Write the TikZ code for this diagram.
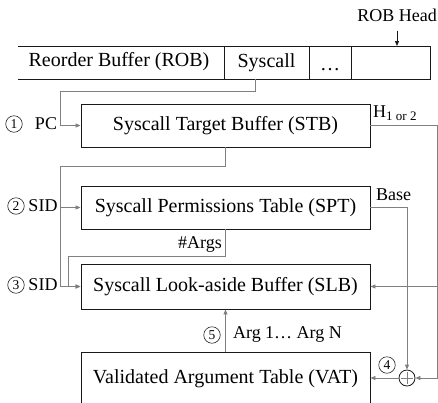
\documentclass[tikz,border=0pt]{standalone}
\usepackage{fontspec}
\setmainfont{Liberation Serif}
\usetikzlibrary{arrows.meta,calc}
\begin{document}
\begin{tikzpicture}[x=1pt,y=-1pt,
  box/.style={draw=black!90, line width=0.9pt, minimum width=289pt, inner sep=0pt, font=\fontsize{20}{24}\selectfont},
  cell/.style={inner sep=0pt, font=\fontsize{20}{24}\selectfont},
  conn/.style={draw=black!50, line width=0.8pt},
  arr/.style={conn, -{Stealth[length=5pt,width=4pt,inset=0pt]}},
  lbl/.style={font=\fontsize{18}{20}\selectfont, inner sep=0pt},
  num/.style={circle, draw=black!85, line width=0.6pt, inner sep=0pt, minimum size=16.5pt, font=\fontsize{13.5}{13.5}\selectfont}]
\useasboundingbox (0,0) rectangle (438,402);
% ROB
\draw[line width=0.9pt, draw=black!90] (18,46) -- (430,46) -- (430,79) -- (18,79);
\draw[line width=0.9pt, draw=black!90] (224,46) -- (224,79) (309,46) -- (309,79) (351,46) -- (351,79);
\node[cell] (rob) at (119,62) {Reorder Buffer (ROB)};
\node[cell, minimum width=85pt, minimum height=33pt] (sc) at (266.5,62.5) {Syscall};
\node[cell, anchor=base] (dots) at (330,70) {…};
\node[lbl] (head) at (397,15) {ROB Head};
\coordinate (headtip) at (397,46);
\draw[arr, draw=black!90, shorten <=9pt] (head.south) -- (headtip);
% boxes
\node[box, minimum height=43pt] (stb) at (225.5,125.5) {Syscall Target Buffer (STB)};
\node[box, minimum height=43pt] (spt) at (225.5,207.5) {Syscall Permissions Table (SPT)};
\node[box, minimum height=45pt] (slb) at (225.5,286.5) {Syscall Look-aside Buffer (SLB)};
\node[box, minimum height=53pt] (vat) at (225.5,378.5) {Validated Argument Table (VAT)};
\node[circle, draw=black!90, line width=0.8pt, minimum size=16pt, inner sep=0pt] (plus) at (407,378) {};
\draw[conn] ($(plus.center)+(0,-6)$) -- ($(plus.center)+(0,6)$) ($(plus.center)+(-6,0)$) -- ($(plus.center)+(6,0)$);
% labels
\node[lbl] (pc) at (46,124) {PC};
\node[num] (n1) at (14,124) {1};
\node[lbl] (sid2) at (43,206) {SID};
\node[num] (n2) at (16,206) {2};
\node[lbl] (sid3) at (43,285) {SID};
\node[num] (n3) at (16,285) {3};
\node[lbl] (args) at (200,244) {\#Args};
\node[lbl, anchor=west] (h) at (373,113) {H{\fontsize{13}{13}\selectfont\raisebox{-3pt}{1 or 2}}};
\node[lbl, anchor=west] (base) at (376,195) {Base};
\node[lbl] (argn) at (287.5,334) {Arg 1… Arg N};
\node[num] (n5) at (212,335) {5};
\node[num] (n4) at (387,365) {4};
% connectors
\coordinate (scb) at (255,79);
\coordinate (j1) at (60,91);
\coordinate (j2) at (60,166);
\coordinate (j3) at (68,256);
\coordinate (rb) at (437.5,378);
\draw[arr] (scb) |- (j1) |- (stb.west);
\draw[arr] (stb.south) |- (j2) |- (slb.west);
\draw[arr] (spt.west -| j2) -- (spt.west);
\draw[arr] (spt.south) |- (j3) |- (slb.west);
\draw[arr] (stb.east) -| (rb) -- (plus.east);
\draw[arr] (slb.east -| rb) -- (slb.east);
\draw[arr] (spt.east) -| (plus.north);
\draw[arr] (plus.west) -- (plus.west -| vat.east);
\draw[arr] (vat.north) -- (slb.south);
\end{tikzpicture}
\end{document}
